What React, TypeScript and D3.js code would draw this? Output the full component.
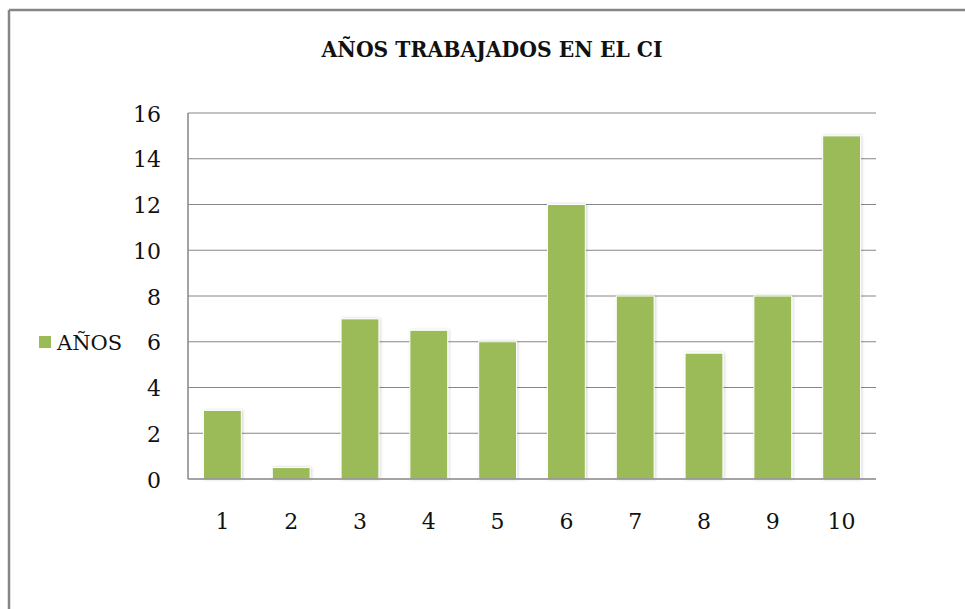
import React from "react";
import * as d3 from "d3";

const categories = ["1", "2", "3", "4", "5", "6", "7", "8", "9", "10"];
const values = [3, 0.5, 7, 6.5, 6, 12, 8, 5.5, 8, 15];
const yTicks = [0, 2, 4, 6, 8, 10, 12, 14, 16];
const seriesName = "AÑOS";
const title = "AÑOS TRABAJADOS EN EL CI";

export default function App() {
  const W = 965, H = 609;
  const left = 188, right = 876, top = 113, bottom = 479;
  const x = d3.scaleBand<string>().domain(categories).range([left, right]).paddingInner(0.45).paddingOuter(0.225);
  const y = d3.scaleLinear().domain([0, 16]).range([bottom, top]);
  const font = "'DejaVu Serif', serif";
  const titleFont = "'DejaVu Serif Condensed', 'DejaVu Serif', serif";
  const grey = "#868686";
  const green = "#9BBB59";
  return (
    <svg width={W} height={H} style={{ position: "fixed", left: 0, top: 0, background: "#fff" }}>
      <defs>
        <filter id="sh" x="-20%" y="-20%" width="140%" height="140%">
          <feDropShadow dx="1" dy="0" stdDeviation="1.5" floodColor="#000" floodOpacity="0.18" />
        </filter>
      </defs>
      <rect x={0} y={0} width={W} height={H} fill="#fff" />
      <line x1={9} y1={10} x2={W} y2={10} stroke={grey} strokeWidth={2.5} />
      <line x1={9} y1={10} x2={9} y2={H} stroke={grey} strokeWidth={2.5} />
      <text x={492} y={57} textAnchor="middle" fontFamily={titleFont} fontWeight="bold" fontSize={22}
        textLength={341} lengthAdjust="spacingAndGlyphs" fill="#111">{title}</text>
      {yTicks.map((t) => (
        <g key={t}>
          {t > 0 && <line x1={left} x2={right} y1={y(t)} y2={y(t)} stroke={grey} strokeWidth={1} />}
          <text x={161} y={y(t) + 8.5} textAnchor="end" fontFamily={font} fontSize={22} fill="#111">{t}</text>
        </g>
      ))}
      {categories.map((c, i) => (
        <rect key={c} x={x(c)!} y={y(values[i])} width={x.bandwidth()} height={bottom - y(values[i])}
          fill={green} stroke="#fff" strokeWidth={1} filter="url(#sh)" />
      ))}
      <line x1={left} x2={left} y1={top} y2={bottom} stroke={grey} strokeWidth={1.5} />
      <line x1={left} x2={right} y1={bottom} y2={bottom} stroke={grey} strokeWidth={1.5} />
      {categories.map((c) => (
        <text key={c} x={x(c)! + x.bandwidth() / 2} y={529} textAnchor="middle" fontFamily={font} fontSize={22} fill="#111">{c}</text>
      ))}
      <rect x={39} y={336} width={12} height={12} fill={green} />
      <text x={57} y={350} fontFamily={font} fontSize={21} fill="#111">{seriesName}</text>
    </svg>
  );
}
